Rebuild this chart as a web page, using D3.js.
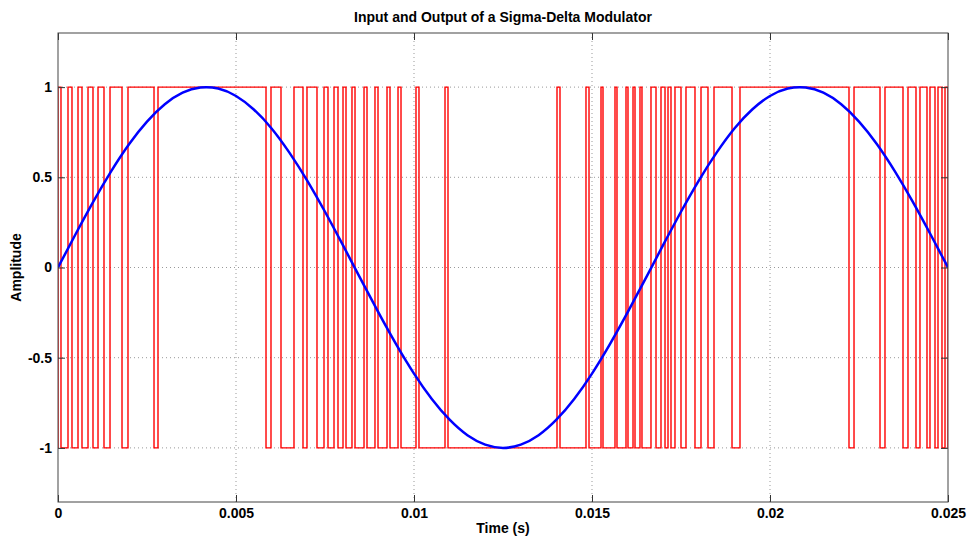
<!DOCTYPE html>
<html>
<head>
<meta charset="utf-8">
<script src="https://cdn.jsdelivr.net/npm/d3@7"></script>
<style>
  body { margin: 0; background: #fff; }
  text { font-family: "Liberation Sans Narrow", "Arial Narrow", "Liberation Sans", Arial, sans-serif; font-weight: bold; }
</style>
</head>
<body>
<svg width="968" height="539"></svg>
<script>
// input sine (time in ms, amplitude)
const inputTime = [0, 0.5, 1, 1.5, 2, 2.5, 3, 3.5, 4, 4.5, 5, 5.5, 6, 6.5, 7, 7.5, 8, 8.5, 9, 9.5,
  10, 10.5, 11, 11.5, 12, 12.5, 13, 13.5, 14, 14.5, 15, 15.5, 16, 16.5, 17, 17.5, 18, 18.5, 19, 19.5,
  20, 20.5, 21, 21.5, 22, 22.5, 23, 23.5, 24, 24.5, 25]
const inputAmp = [0, 0.187, 0.368, 0.536, 0.685, 0.809, 0.905, 0.969, 0.998, 0.992, 0.951, 0.876, 0.771, 0.637, 0.482, 0.309, 0.125, -0.063, -0.249, -0.426,
  -0.588, -0.729, -0.844, -0.930, -0.982, -1, -0.982, -0.930, -0.844, -0.729, -0.588, -0.426, -0.249, -0.063, 0.125, 0.309, 0.482, 0.637, 0.771, 0.876,
  0.951, 0.992, 0.998, 0.969, 0.905, 0.809, 0.685, 0.536, 0.368, 0.187, 0]

// modulator output: intervals (ms) where the red trace sits at +1, otherwise -1
const highStart = [0, 0.281, 0.562, 0.843, 1.124, 1.461, 1.966, 2.809, 5.983, 6.629, 6.994, 7.472, 7.753, 8.006,
  8.258, 8.596, 8.904, 9.242, 9.551, 10.056, 10.871, 14.017, 14.831, 15.253, 15.646, 15.955, 16.152, 16.348,
  16.657, 16.938, 17.135, 17.331, 17.640, 18.062, 18.427, 19.157, 22.360, 23.230, 23.876, 24.213, 24.494, 24.719, 24.916]
const highEnd = [0.084, 0.393, 0.674, 0.983, 1.292, 1.798, 2.697, 5.843, 6.264, 6.882, 7.275, 7.584, 7.865, 8.090,
  8.343, 8.680, 8.989, 9.326, 9.635, 10.140, 10.955, 14.101, 14.916, 15.309, 15.702, 16.011, 16.208, 16.404,
  16.798, 17.051, 17.219, 17.500, 17.893, 18.258, 18.933, 22.219, 23.090, 23.736, 24.101, 24.410, 24.635, 24.831, 25.0]

const xTicks = [0, 0.005, 0.01, 0.015, 0.02, 0.025]
const xTickLabels = ['0', '0.005', '0.01', '0.015', '0.02', '0.025']
const yTicks = [-1, -0.5, 0, 0.5, 1]
const yTickLabels = ['-1', '-0.5', '0', '0.5', '1']

const svg = d3.select('svg')
const margin = { left: 58, top: 33, right: 20, bottom: 37 }
const width = 968 - margin.left - margin.right,
  height = 539 - margin.top - margin.bottom

const x = d3.scaleLinear().domain([0, 0.025]).range([0, width])
const y = d3.scaleLinear().domain([-1.3, 1.3]).range([height, 0])

const g = svg.append('g').attr('transform', `translate(${margin.left},${margin.top})`)

g.append('clipPath').attr('id', 'clip')
  .append('rect').attr('width', width).attr('height', height)

// dotted grid
g.append('g').selectAll('line').data(xTicks.slice(1, -1)).join('line')
  .attr('x1', d => x(d)).attr('x2', d => x(d)).attr('y1', 0).attr('y2', height)
  .attr('stroke', '#999').attr('stroke-width', 1).attr('stroke-dasharray', '1,3')
g.append('g').selectAll('line').data(yTicks).join('line')
  .attr('y1', d => y(d)).attr('y2', d => y(d)).attr('x1', 0).attr('x2', width)
  .attr('stroke', '#999').attr('stroke-width', 1).attr('stroke-dasharray', '1,3')

// red modulator output as a step trace
const redPts = [[0, -1]]
highStart.forEach((s, i) => {
  redPts.push([s / 1000, -1], [s / 1000, 1], [highEnd[i] / 1000, 1], [highEnd[i] / 1000, -1])
})
redPts.push([0.025, -1])

const plot = g.append('g').attr('clip-path', 'url(#clip)')
plot.append('path')
  .datum(redPts)
  .attr('fill', 'none')
  .attr('stroke', '#ff0000')
  .attr('stroke-width', 1.4)
  .attr('d', d3.line().x(d => x(d[0])).y(d => y(d[1])))

// blue input sine
plot.append('path')
  .datum(inputTime.map((t, i) => [t / 1000, inputAmp[i]]))
  .attr('fill', 'none')
  .attr('stroke', '#0000ff')
  .attr('stroke-width', 2.5)
  .attr('d', d3.line().curve(d3.curveNatural).x(d => x(d[0])).y(d => y(d[1])))

// axes, MATLAB style ticks pointing inward on all four sides
const fmtX = (d, i) => xTickLabels[i]
const fmtY = (d, i) => yTickLabels[i]
const styleAxis = sel => {
  sel.select('.domain').remove()
  sel.selectAll('line').attr('stroke', '#333')
  sel.selectAll('text').attr('font-size', 14).attr('fill', '#000')
}
g.append('g').attr('transform', `translate(0,${height})`)
  .call(d3.axisBottom(x).tickValues(xTicks).tickFormat(fmtX).tickSizeInner(-7).tickSizeOuter(0).tickPadding(6))
  .call(styleAxis)
g.append('g')
  .call(d3.axisTop(x).tickValues(xTicks).tickFormat('').tickSizeInner(-7).tickSizeOuter(0))
  .call(styleAxis)
g.append('g')
  .call(d3.axisLeft(y).tickValues(yTicks).tickFormat(fmtY).tickSizeInner(-7).tickSizeOuter(0).tickPadding(6))
  .call(styleAxis)
g.append('g').attr('transform', `translate(${width},0)`)
  .call(d3.axisRight(y).tickValues(yTicks).tickFormat('').tickSizeInner(-7).tickSizeOuter(0))
  .call(styleAxis)

g.append('rect').attr('width', width).attr('height', height)
  .attr('fill', 'none').attr('stroke', '#444').attr('stroke-width', 1)

// labels
svg.append('text').attr('x', margin.left + width / 2).attr('y', 22)
  .attr('text-anchor', 'middle').attr('font-size', 14).text('Input and Output of a Sigma-Delta Modulator')
svg.append('text').attr('x', margin.left + width / 2).attr('y', 533)
  .attr('text-anchor', 'middle').attr('font-size', 14).text('Time (s)')
svg.append('text')
  .attr('transform', `translate(21,${margin.top + height / 2}) rotate(-90)`)
  .attr('text-anchor', 'middle').attr('font-size', 14).text('Amplitude')
</script>
</body>
</html>
